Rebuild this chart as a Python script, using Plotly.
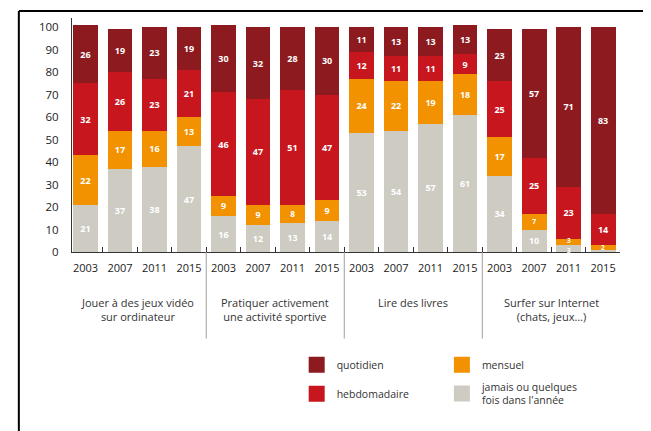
import plotly.graph_objects as go

years = ["2003", "2007", "2011", "2015"]
activities = [
    "Jouer à des jeux vidéo<br>sur ordinateur",
    "Pratiquer activement<br>une activité sportive",
    "Lire des livres",
    "Surfer sur Internet<br>(chats, jeux…)",
]
series_names = ["jamais ou quelques<br>fois dans l'année", "mensuel", "hebdomadaire", "quotidien"]
colors = ["#CDCBC2", "#F29200", "#C8161F", "#8C1A1E"]

jamais = [21, 37, 38, 47, 16, 12, 13, 14, 53, 54, 57, 61, 34, 10, 3, 1]
mensuel = [22, 17, 16, 13, 9, 9, 8, 9, 24, 22, 19, 18, 17, 7, 3, 2]
hebdomadaire = [32, 26, 23, 21, 46, 47, 51, 47, 12, 11, 11, 9, 25, 25, 23, 14]
quotidien = [26, 19, 23, 19, 30, 32, 28, 30, 11, 13, 13, 13, 23, 57, 71, 83]

values = [jamais, mensuel, hebdomadaire, quotidien]
legend_of = ["legend2", "legend2", "legend", "legend"]
rank_of = [2, 1, 2, 1]

n_groups = len(activities)
n_years = len(years)
xpos = list(range(n_groups * n_years))
ticklabels = years * n_groups

FONT = "Open Sans"
SMALL = 3  # segments this small get their label as a separate small text

fig = go.Figure()
base = [0] * len(xpos)
small_labels = {}  # bar index -> list of (y, text)
for name, vals, col in zip(series_names, values, colors):
    fig.add_trace(go.Bar(
        x=xpos, y=vals, name=name, marker=dict(color=col, line=dict(width=0)),
        text=[str(v) if v > SMALL else "" for v in vals], textposition="inside",
        insidetextanchor="middle", textangle=0,
        textfont=dict(color="white", size=9, family=FONT, weight="bold"),
        width=0.72, showlegend=False,
    ))
    for i, v in enumerate(vals):
        if 1 < v <= SMALL:
            small_labels.setdefault(i, []).append((base[i] + v / 2, str(v)))
        base[i] += v

for i, labels in small_labels.items():
    crowded = len(labels) > 1
    for k, (yv, txt) in enumerate(labels):
        shift = 0
        if crowded:
            shift = -1.5 if k == 0 else 1.5
        fig.add_annotation(x=xpos[i], y=yv, xref="x", yref="y", text=txt,
                           showarrow=False, borderpad=0, yshift=shift,
                           font=dict(family=FONT, size=6.5, color="white", weight="bold"))

# legend entries with larger square swatches
for name, col, lg, rk in zip(series_names, colors, legend_of, rank_of):
    fig.add_trace(go.Scatter(
        x=[None], y=[None], mode="markers", name=name,
        marker=dict(symbol="square", size=16, color=col),
        legend=lg, legendrank=rk, legendgroup=name, showlegend=True,
    ))

# group labels and separators
for g, act in enumerate(activities):
    center = g * n_years + (n_years - 1) / 2
    fig.add_annotation(x=center, y=-0.175, xref="x", yref="paper", text=act,
                       showarrow=False, yanchor="top",
                       font=dict(family=FONT, size=11, color="#333333"))
    if g > 0:
        sep = g * n_years - 0.5
        fig.add_shape(type="line", xref="x", yref="paper", x0=sep, x1=sep,
                      y0=0, y1=-0.37, line=dict(color="#A0A0A0", width=1))

# outer frame (decorative border)
fig.add_shape(type="line", xref="paper", yref="paper", x0=-0.097, x1=-0.097,
              y0=1.03, y1=-0.8, line=dict(color="black", width=2))
fig.add_shape(type="line", xref="paper", yref="paper", x0=-0.097, x1=1.053,
              y0=1.03, y1=1.03, line=dict(color="black", width=2))
fig.add_shape(type="line", xref="paper", yref="paper", x0=1.053, x1=1.053,
              y0=1.03, y1=-0.8, line=dict(color="black", width=2))

fig.update_layout(
    width=643, height=423,
    margin=dict(l=64, r=31, t=10, b=179),
    paper_bgcolor="white", plot_bgcolor="white",
    barmode="stack", bargap=0.28,
    font=dict(family=FONT, size=11, color="#222222"),
    xaxis=dict(range=[-0.39, 15.49], tickmode="array", tickvals=xpos, ticktext=ticklabels,
               showline=True, linecolor="#333333", linewidth=1, showgrid=False, zeroline=False,
               ticks="", ticklabelstandoff=6,
               tickfont=dict(family=FONT, size=11, color="#222222"),
               minor=dict(tick0=-0.5, dtick=1, ticks="inside", ticklen=5,
                          tickcolor="#333333", showgrid=False)),
    yaxis=dict(range=[0, 104], tickmode="array", tickvals=list(range(0, 101, 10)),
               showline=True, linecolor="#333333", linewidth=1, showgrid=False, zeroline=False,
               ticks="", ticklabelstandoff=10,
               tickfont=dict(family=FONT, size=11.5, color="#222222")),
    legend=dict(x=0.41, y=-0.42, xanchor="left", yanchor="top", orientation="v",
                bgcolor="rgba(0,0,0,0)", tracegroupgap=10, itemsizing="trace",
                font=dict(family=FONT, size=10.5, color="#333333")),
    legend2=dict(x=0.675, y=-0.42, xanchor="left", yanchor="top", orientation="v",
                 bgcolor="rgba(0,0,0,0)", tracegroupgap=4, itemsizing="trace",
                 font=dict(family=FONT, size=10.5, color="#333333")),
)

fig.write_html("out.html")
